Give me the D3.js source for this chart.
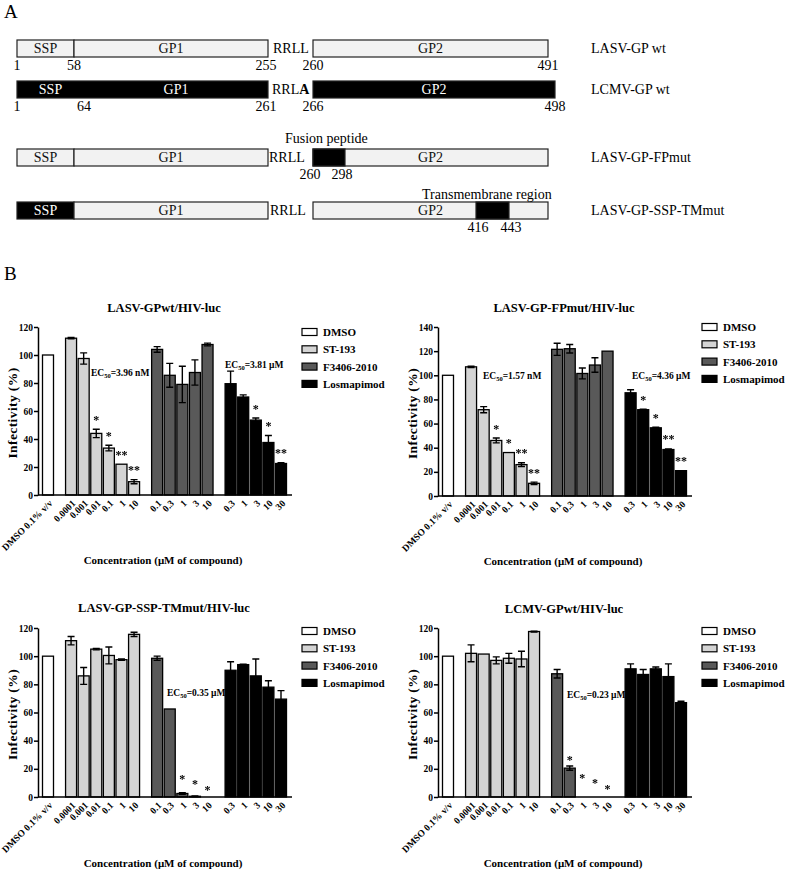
<!DOCTYPE html>
<html>
<head>
<meta charset="utf-8">
<script src="https://cdn.jsdelivr.net/npm/d3@7"></script>
<style>
  body { margin: 0; background: #fff; }
  text { font-family: "Liberation Serif", "Times New Roman", serif; fill: #000; }
  .stars { filter: grayscale(100%); }
</style>
</head>
<body>
<svg id="fig" width="789" height="872"></svg>
<script>
// ---------- data: panel A (residue numbers) ----------
const lasvBreaks = [1, 58, 255, 260, 298, 416, 443, 491];
const lcmvBreaks = [1, 64, 261, 266, 498];
const constructNames = ["LASV-GP wt", "LCMV-GP wt", "LASV-GP-FPmut", "LASV-GP-SSP-TMmut"];

// ---------- data: panel B ----------
const legendNames = ["DMSO", "ST-193", "F3406-2010", "Losmapimod"];
const dmsoTicks = ["DMSO 0.1% v/v"];
const st193Ticks = ["0.0001", "0.001", "0.01", "0.1", "1", "10"];
const f3406Ticks = ["0.1", "0.3", "1", "3", "10"];
const losTicks = ["0.3", "1", "3", "10", "30"];

const wtMean  = [100, 112, 97.5, 44, 33.5, 22, 9.5, 104, 85.5, 79, 87.5, 107.5, 79.5, 70, 53.5, 37.5, 22.5];
const wtErr   = [0, 0.5, 4, 3, 2, 0, 1.5, 2, 8.5, 13, 9, 1, 9, 1.5, 1.5, 5, 0.5];
const wtStars = ["", "", "", "*", "*", "**", "**", "", "", "", "", "", "", "", "*", "*", "**"];

const fpMean  = [100, 107, 71.5, 46, 36, 26, 10.5, 121.5, 122, 101.5, 108.5, 120, 85.5, 71.5, 56.5, 38.5, 21];
const fpErr   = [0, 0.5, 2.5, 2, 0, 1.5, 1, 5, 3.5, 4.5, 6, 0, 2.5, 0.5, 0.5, 0.5, 0];
const fpStars = ["", "", "", "*", "*", "**", "**", "", "", "", "", "", "", "*", "*", "**", "**"];

const tmMean  = [100, 111, 86, 105, 100.5, 97.5, 115.5, 98.5, 62.5, 2.5, 0.5, 0, 90, 94, 86, 78, 69.5];
const tmErr   = [0, 3, 6, 0.5, 6, 0.5, 1.5, 1.5, 0, 0.5, 0.2, 0, 6, 0.3, 12, 4.5, 6];
const tmStars = ["", "", "", "", "", "", "", "", "", "*", "*", "*", "", "", "", "", ""];
const tmStarAt = [null, null, null, null, null, null, null, null, null, 13.5, 10, 5.7, null, null, null, null, null];

const lcmvMean  = [100, 102, 101.5, 97, 98.5, 98, 117.5, 87.5, 20.5, 0, 0, 0, 91, 87, 91, 85.5, 67];
const lcmvErr   = [0, 6, 0, 2.5, 3.5, 5.5, 0.3, 3, 1.5, 0, 0, 0, 3.5, 3.5, 1.3, 9, 1];
const lcmvStars = ["", "", "", "", "", "", "", "", "*", "*", "*", "*", "", "", "", "", ""];
const lcmvStarAt = [null, null, null, null, null, null, null, null, 27, 14.9, 10.7, 7.1, null, null, null, null, null];

const fills = ["#ffffff", "#d4d4d4", "#595959", "#000000"];

const svg = d3.select("#fig");

// ================= panel A =================
svg.append("text").attr("x", 4).attr("y", 18).attr("font-size", 19).text("A");

const lasvX = d3.scaleLinear().domain(lasvBreaks).range([17, 74, 268, 313, 345, 476, 509, 548]);
const lcmvX = d3.scaleLinear().domain(lcmvBreaks).range([17, 84, 268, 313, 555]);

// rows: box top, [segments], labels under
const rowsA = [
  { top: 40, sc: lasvX, link: "RRLL", linkX: 273,
    segs: [[1, 58, 0], [58, 255, 0], [260, 491, 0]],
    nums: [1, 58, 255, 260, 491] },
  { top: 81, sc: lcmvX, link: "RRL", linkX: 272, bold: true,
    segs: [[1, 261, 1], [266, 498, 1]],
    nums: [1, 64, 261, 266, 498] },
  { top: 149, sc: lasvX, link: "RRLL", linkX: 269,
    segs: [[1, 58, 0], [58, 255, 0], [260, 491, 0], [260, 298, 1]],
    nums: [260, 298], numShift: -3 },
  { top: 202, sc: lasvX, link: "RRLL", linkX: 270,
    segs: [[1, 58, 1], [58, 255, 0], [260, 491, 0], [416, 443, 1]],
    nums: [416, 443], numShift: 2 }
];
const boxH = 17;

rowsA.forEach((r, ri) => {
  const g = svg.append("g");
  g.selectAll("rect").data(r.segs).join("rect")
    .attr("x", d => r.sc(d[0])).attr("y", r.top)
    .attr("width", d => r.sc(d[1]) - r.sc(d[0])).attr("height", boxH)
    .attr("fill", d => d[2] ? "#000" : "#f2f2f2")
    .attr("stroke", "#222").attr("stroke-width", 1.2);
  const base = r.top + 13;
  const dark = ri === 1;
  const sspDark = ri === 1 || ri === 3;
  const lab = [["SSP", (r.sc(1) + r.sc(ri === 1 ? 64 : 58)) / 2, sspDark],
               ["GP1", (r.sc(ri === 1 ? 64 : 58) + r.sc(ri === 1 ? 261 : 255)) / 2, dark],
               ["GP2", (r.sc(ri === 1 ? 266 : 260) + r.sc(ri === 1 ? 498 : 491)) / 2, dark]];
  g.selectAll("text.seg").data(lab).join("text").attr("class", "seg")
    .attr("x", d => d[1]).attr("y", base).attr("text-anchor", "middle")
    .attr("font-size", 14).style("fill", d => d[2] ? "#fff" : "#111").text(d => d[0]);
  const lt = g.append("text").attr("x", r.linkX).attr("y", base).attr("font-size", 14).text(r.link);
  if (r.bold) lt.append("tspan").attr("font-weight", "bold").text("A");
  g.selectAll("text.num").data(r.nums).join("text").attr("class", "num")
    .attr("x", d => r.sc(d) + (r.numShift || 0) - (d === 255 || d === 261 ? 2 : 0))
    .attr("y", r.top + boxH + 13).attr("text-anchor", "middle")
    .attr("font-size", 14).text(d => d);
  g.append("text").attr("x", 591).attr("y", base).attr("font-size", 14).text(constructNames[ri]);
});
svg.append("text").attr("x", 285).attr("y", 143).attr("font-size", 14).text("Fusion peptide");
svg.append("text").attr("x", 422).attr("y", 199).attr("font-size", 14).text("Transmembrane region");

// ================= panel B =================
svg.append("text").attr("x", 4).attr("y", 280).attr("font-size", 19).text("B");

const groupTicks = [dmsoTicks, st193Ticks, f3406Ticks, losTicks];
const bars = [];
let slot = 0;
groupTicks.forEach((ticks, gi) => {
  if (gi) slot += 0.83;
  ticks.forEach(t => { bars.push({ slot: slot, label: t, group: gi }); slot += 1; });
});
const lastSlot = bars[bars.length - 1].slot;

const panels = [
  { ox: 0, y0: 495, yTop: 327, yMax: 120, title: "LASV-GPwt/HIV-luc", titleY: 312, legY: 332,
    mean: wtMean, err: wtErr, stars: wtStars, starAt: null, labY: 564,
    ec: [["=3.96 nM", 91, 376], ["=3.81 \u03bcM", 225, 368]] },
  { ox: 400, y0: 496, yTop: 327, yMax: 140, title: "LASV-GP-FPmut/HIV-luc", titleY: 312, legY: 327,
    mean: fpMean, err: fpErr, stars: fpStars, starAt: null, labY: 565,
    ec: [["=1.57 nM", 483, 379], ["=4.36 \u03bcM", 632, 379]] },
  { ox: 0, y0: 797, yTop: 628, yMax: 120, title: "LASV-GP-SSP-TMmut/HIV-luc", titleY: 612, legY: 631,
    mean: tmMean, err: tmErr, stars: tmStars, starAt: tmStarAt, labY: 867,
    ec: [["=0.35 \u03bcM", 167, 696]] },
  { ox: 400, y0: 797, yTop: 628, yMax: 120, title: "LCMV-GPwt/HIV-luc", titleY: 613, legY: 631,
    mean: lcmvMean, err: lcmvErr, stars: lcmvStars, starAt: lcmvStarAt, labY: 867,
    ec: [["=0.23 \u03bcM", 567, 698]] }
];

function drawPanel(p) {
  const g = svg.append("g");
  const x = d3.scaleLinear().domain([0, lastSlot]).range([p.ox + 48, p.ox + 281]);
  const y = d3.scaleLinear().domain([0, p.yMax]).range([p.y0, p.yTop]);
  const bw = 11;

  // title
  g.append("text").attr("x", p.ox + 164).attr("y", p.titleY).attr("text-anchor", "middle")
    .attr("font-size", 12.5).attr("font-weight", "bold").text(p.title);

  // y axis
  const ax = g.append("g").attr("transform", `translate(${p.ox + 38},0)`)
    .call(d3.axisLeft(y).tickValues(d3.range(0, p.yMax + 1, 20)).tickSize(4).tickSizeOuter(0));
  ax.select(".domain").attr("stroke", "#000").attr("stroke-width", 1.5);
  ax.selectAll(".tick line").attr("stroke", "#000").attr("stroke-width", 1.5);
  ax.selectAll(".tick text").attr("font-family", '"Liberation Serif","Times New Roman",serif')
    .attr("font-size", 9.5).attr("font-weight", "bold").attr("x", -5);

  // bars
  g.selectAll("rect.bar").data(bars).join("rect").attr("class", "bar")
    .attr("x", d => x(d.slot) - bw / 2).attr("width", bw)
    .attr("y", (d, i) => y(p.mean[i])).attr("height", (d, i) => p.y0 - y(p.mean[i]))
    .attr("fill", d => fills[d.group]).attr("stroke", "#000").attr("stroke-width", 1.3);

  // error bars
  const eb = bars.map((d, i) => ({ cx: x(d.slot), v: p.mean[i], e: p.err[i] })).filter(d => d.e > 0);
  g.selectAll("path.err").data(eb).join("path").attr("class", "err")
    .attr("d", d => `M${d.cx},${y(d.v - d.e)}V${y(d.v + d.e)}` +
      `M${d.cx - 3.5},${y(d.v + d.e)}H${d.cx + 3.5}M${d.cx - 3.5},${y(d.v - d.e)}H${d.cx + 3.5}`)
    .attr("stroke", "#000").attr("stroke-width", 1.4).attr("fill", "none");

  // x axis line
  g.append("line").attr("x1", p.ox + 38).attr("x2", p.ox + 292).attr("y1", p.y0).attr("y2", p.y0)
    .attr("stroke", "#000").attr("stroke-width", 1.6);

  // stars
  const st = bars.map((d, i) => ({ cx: x(d.slot), s: p.stars[i],
      c: p.starAt && p.starAt[i] != null ? y(p.starAt[i]) : y(p.mean[i] + p.err[i]) - 11 }))
    .filter(d => d.s);
  g.append("g").attr("class", "stars").selectAll("text").data(st).join("text")
    .attr("x", d => d.cx).attr("y", d => d.c + 5.5).attr("text-anchor", "middle")
    .attr("font-size", 12).attr("font-weight", "bold").text(d => d.s);

  // x tick labels
  g.selectAll("text.xl").data(bars).join("text").attr("class", "xl")
    .attr("transform", d => `translate(${x(d.slot) + 5},${p.y0 + 9}) rotate(-45)`)
    .attr("text-anchor", "end").attr("font-size", 9.5).attr("font-weight", "bold").text(d => d.label);

  // axis titles
  g.append("text").attr("transform", `translate(${p.ox + 17},${(p.y0 + p.yTop) / 2 + 2}) rotate(-90)`)
    .attr("text-anchor", "middle").attr("font-size", 13.5).attr("font-weight", "bold")
    .attr("letter-spacing", 0.4).text("Infectivity (%)");
  g.append("text").attr("x", p.ox + 163).attr("y", p.labY).attr("text-anchor", "middle")
    .attr("font-size", 11).attr("font-weight", "bold").text("Concentration (\u03bcM of compound)");

  // EC50 notes
  p.ec.forEach(e => {
    const t = g.append("text").attr("x", e[1]).attr("y", e[2]).attr("font-size", 9.5).attr("font-weight", "bold");
    t.append("tspan").text("EC");
    t.append("tspan").attr("font-size", 6.5).attr("dy", 2).text("50");
    t.append("tspan").attr("dy", -2).text(e[0]);
  });

  // legend
  const lg = g.append("g").attr("transform", `translate(${p.ox + 302},${p.legY})`);
  lg.selectAll("rect").data(legendNames).join("rect")
    .attr("x", 0).attr("y", (d, i) => i * 17.3 - 3.5).attr("width", 15).attr("height", 7)
    .attr("fill", (d, i) => fills[i]).attr("stroke", "#000").attr("stroke-width", 1.2);
  lg.selectAll("text").data(legendNames).join("text")
    .attr("x", 21).attr("y", (d, i) => i * 17.3 + 4).attr("font-size", 11).attr("font-weight", "bold").text(d => d);
}
panels.forEach(drawPanel);
</script>
</body>
</html>
